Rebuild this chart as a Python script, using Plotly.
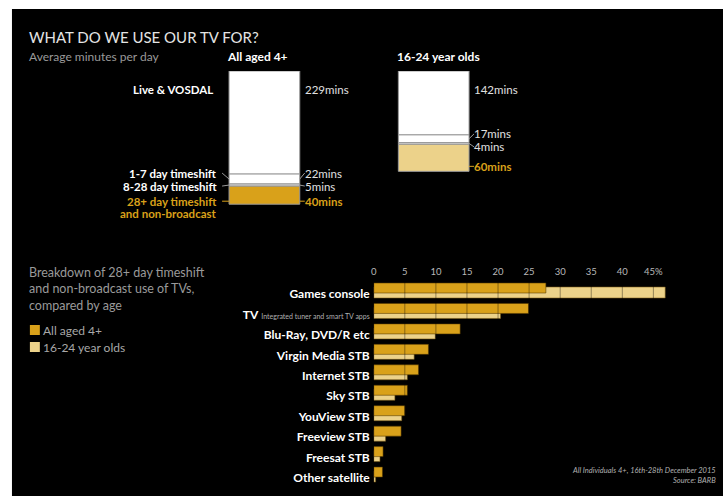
import plotly.graph_objects as go

# ---------------------------------------------------------------- data
groups = ["All aged 4+", "16-24 year olds"]
segments = ["Live & VOSDAL", "1-7 day timeshift", "8-28 day timeshift", "28+ day timeshift"]
mins_all = [229, 22, 5, 40]
mins_young = [142, 17, 4, 60]

sources = ["Games console", "TV", "Blu-Ray, DVD/R etc", "Virgin Media STB", "Internet STB",
           "Sky STB", "YouView STB", "Freeview STB", "Freesat STB", "Other satellite"]
share_all = [27.7, 24.9, 13.9, 8.8, 7.2, 5.4, 5.0, 4.4, 1.5, 1.4]
share_young = [46.9, 20.4, 9.9, 6.5, 5.4, 3.4, 4.5, 1.9, 1.0, 0.3]

x_ticks = [0, 5, 10, 15, 20, 25, 30, 35, 40, 45]
x_tick_labels = ["0", "5", "10", "15", "20", "25", "30", "35", "40", "45%"]

# ---------------------------------------------------------------- geometry / style
W, H = 723, 496


def fx(p):
    return p / W


def fy(p):
    return 1 - p / H


GOLD = "#D9A11A"
PALE = "#ECD28A"
FONT = "Lato, 'Open Sans', sans-serif"
OUTLINE = "#9a9a9a"
PAD = 3  # left-anchored annotation text sits a few px inside its box

# top panel: two stacked columns hanging from the same top line
BAR_PX, STEP_PX, LEFT0 = 71, 170, 227
CENTER0 = LEFT0 + BAR_PX / 2
TOP_PX, MIN_PX, MAX_MIN = 71, 0.45, 300


def ty(m):
    return TOP_PX + m * MIN_PX


# bottom panel: horizontal bars
ROW0, ROW_PX = 294, 20.45
X0_PX, PCT_PX = 372.3, 6.24
BOT_TOP, BOT_BOTTOM, BOT_RIGHT = 280, 486, 680

fig = go.Figure()

# ---------------------------------------------------------------- breakdown bars
labels = [
    "<b>Games console</b>",
    "<b>TV</b> <span style='font-size:7px;color:#b0b0b0;font-weight:normal'>Integrated tuner and smart TV apps</span>",
] + ["<b>%s</b>" % s for s in sources[2:]]

rows = list(range(len(sources)))
fig.add_trace(go.Bar(
    y=rows, x=share_young, orientation="h", name="16-24 year olds",
    offset=-7 / ROW_PX, width=11 / ROW_PX, opacity=1,
    marker=dict(color=PALE, line=dict(color="rgba(120,90,20,0.55)", width=1)),
    showlegend=False, hoverinfo="skip"))
fig.add_trace(go.Bar(
    y=rows, x=share_all, orientation="h", name="All aged 4+",
    offset=-11 / ROW_PX, width=10 / ROW_PX, opacity=1,
    marker=dict(color=GOLD, line=dict(color="rgba(80,55,0,0.55)", width=1)),
    showlegend=False, hoverinfo="skip"))

# ---------------------------------------------------------------- stacked minutes columns
fills = [["#ffffff", "#ffffff"], ["#ffffff", "#ffffff"], ["#d4d4d4", "#d4d4d4"], [GOLD, PALE]]
cum_a, cum_y = 0, 0
bases_a, bases_y = [], []
for k in range(len(segments)):
    bases_a.append(cum_a)
    bases_y.append(cum_y)
    fig.add_trace(go.Bar(
        x=[0, 1], y=[mins_all[k], mins_young[k]], base=[cum_a, cum_y],
        width=BAR_PX / STEP_PX, xaxis="x2", yaxis="y2", name=segments[k],
        marker=dict(color=fills[k], line=dict(color=OUTLINE, width=1)),
        showlegend=False, hoverinfo="skip"))
    cum_a += mins_all[k]
    cum_y += mins_young[k]

annotations = []
shapes = []


def text(x, y, s, anchor="left", size=12, color="#e6e6e6", bold=False, italic=False):
    if anchor == "left":
        x -= PAD
    annotations.append(dict(
        x=fx(x), y=fy(y), xref="paper", yref="paper", text=("<b>%s</b>" % s) if bold else s,
        xanchor=anchor, yanchor="middle", showarrow=False, align=anchor,
        font=dict(family=FONT, size=size, color=color,
                  style="italic" if italic else "normal")))


def line(x0, y0, x1, y1, color=OUTLINE):
    shapes.append(dict(type="line", xref="paper", yref="paper",
                       x0=fx(x0), y0=fy(y0), x1=fx(x1), y1=fy(y1),
                       line=dict(color=color, width=1), layer="above"))


# black panel on white page
shapes.append(dict(type="rect", xref="paper", yref="paper", x0=fx(9), x1=1, y0=0, y1=fy(9),
                   fillcolor="#000000", line=dict(width=0), layer="below"))

# headings
text(27, 37, "WHAT DO WE USE OUR TV FOR?", size=15, color="#e4e4e4")
text(27, 57, "Average minutes per day", size=12, color="#9a9a9a")
text(LEFT0 - 1, 57, groups[0], size=12, color="#ffffff", bold=True)
text(LEFT0 + STEP_PX, 57, groups[1], size=12, color="#ffffff", bold=True)

# column labels
LBL = 11.5
for g, vals, bases in ((0, mins_all, bases_a), (1, mins_young, bases_y)):
    right = LEFT0 + g * STEP_PX + BAR_PX
    tx = right + 6
    text(tx, 90, "%dmins" % vals[0], size=LBL, color="#e0e0e0")
    y1 = ty(bases[1]) - 1
    y2 = y1 + 13
    y3 = ty(bases[3] + vals[3]) - (3 if g == 0 else 5)
    text(tx, y1, "%dmins" % vals[1], size=LBL, color="#e0e0e0")
    text(tx, y2, "%dmins" % vals[2], size=LBL, color="#e0e0e0")
    text(tx, y3, "%dmins" % vals[3], size=LBL, color=GOLD, bold=True)
    line(right, ty(bases[1] + vals[1] / 2), right + 5, y1)
    line(right, ty(bases[2] + vals[2] / 2), right + 5, y2)
    line(right, y3, right + 5, y3, GOLD)
    if g == 0:
        lx = LEFT0 - 10
        text(213, 90, segments[0], anchor="right", size=LBL, color="#ffffff", bold=True)
        text(lx, y1, segments[1], anchor="right", size=LBL, color="#ffffff", bold=True)
        text(lx, y2, segments[2], anchor="right", size=LBL, color="#ffffff", bold=True)
        text(lx, y3, segments[3], anchor="right", size=LBL, color=GOLD, bold=True)
        text(lx, y3 + 12, "and non-broadcast", anchor="right", size=LBL, color=GOLD, bold=True)
        line(lx + 3, y1, LEFT0, ty(bases[1] + vals[1] / 2))
        line(lx + 3, y2, LEFT0, ty(bases[2] + vals[2] / 2))
        line(lx + 3, y3, LEFT0, y3, GOLD)

# breakdown description and key
text(27, 289, "Breakdown of 28+ day timeshift<br>and non-broadcast use of TVs,<br>compared by age",
     size=12.5, color="#9a9a9a")
for i, (name, col) in enumerate(((groups[0], GOLD), (groups[1], PALE))):
    yc = 330 + 17 * i
    shapes.append(dict(type="rect", xref="paper", yref="paper", x0=fx(27), x1=fx(37),
                       y0=fy(yc + 5), y1=fy(yc - 5), fillcolor=col, line=dict(width=0)))
    text(41, yc, name, size=12, color="#a8a8a8")

# source note
text(718, 470, "All Individuals 4+, 16th-28th December 2015", anchor="right", size=7.5,
     color="#b0b0b0", italic=True)
text(718, 480, "Source: BARB", anchor="right", size=7.5, color="#b0b0b0", italic=True)

# 5-point dividers across the breakdown bars
for v in x_ticks[1:]:
    shapes.append(dict(type="line", xref="x", yref="y domain", x0=v, x1=v, y0=0, y1=1,
                       line=dict(color="rgba(0,0,0,0.38)", width=1), layer="above"))

fig.update_layout(
    width=W, height=H, margin=dict(l=0, r=0, t=0, b=0),
    paper_bgcolor="#ffffff", plot_bgcolor="rgba(0,0,0,0)",
    barmode="overlay", showlegend=False,
    font=dict(family=FONT, color="#e6e6e6"),
    xaxis=dict(domain=[fx(X0_PX), fx(BOT_RIGHT)], range=[0, (BOT_RIGHT - X0_PX) / PCT_PX],
               side="top", tickvals=x_ticks, ticktext=x_tick_labels, showgrid=False,
               zeroline=False, showline=False, ticks="", ticklabelstandoff=2,
               tickfont=dict(family=FONT, size=9.5, color="#b8b8b8"), fixedrange=True),
    yaxis=dict(domain=[fy(BOT_BOTTOM), fy(BOT_TOP)],
               range=[(BOT_BOTTOM - ROW0) / ROW_PX, (BOT_TOP - ROW0) / ROW_PX],
               tickvals=rows, ticktext=labels, showgrid=False, zeroline=False,
               showline=False, ticks="", ticklabelstandoff=3,
               tickfont=dict(family=FONT, size=12, color="#ffffff"), fixedrange=True),
    xaxis2=dict(domain=[fx(100), fx(620)],
                range=[(100 - CENTER0) / STEP_PX, (620 - CENTER0) / STEP_PX],
                anchor="y2", visible=False, fixedrange=True),
    yaxis2=dict(domain=[fy(ty(MAX_MIN)), fy(TOP_PX)], range=[MAX_MIN, 0],
                anchor="x2", visible=False, fixedrange=True),
    annotations=annotations, shapes=shapes,
)

fig.write_html("out.html")
